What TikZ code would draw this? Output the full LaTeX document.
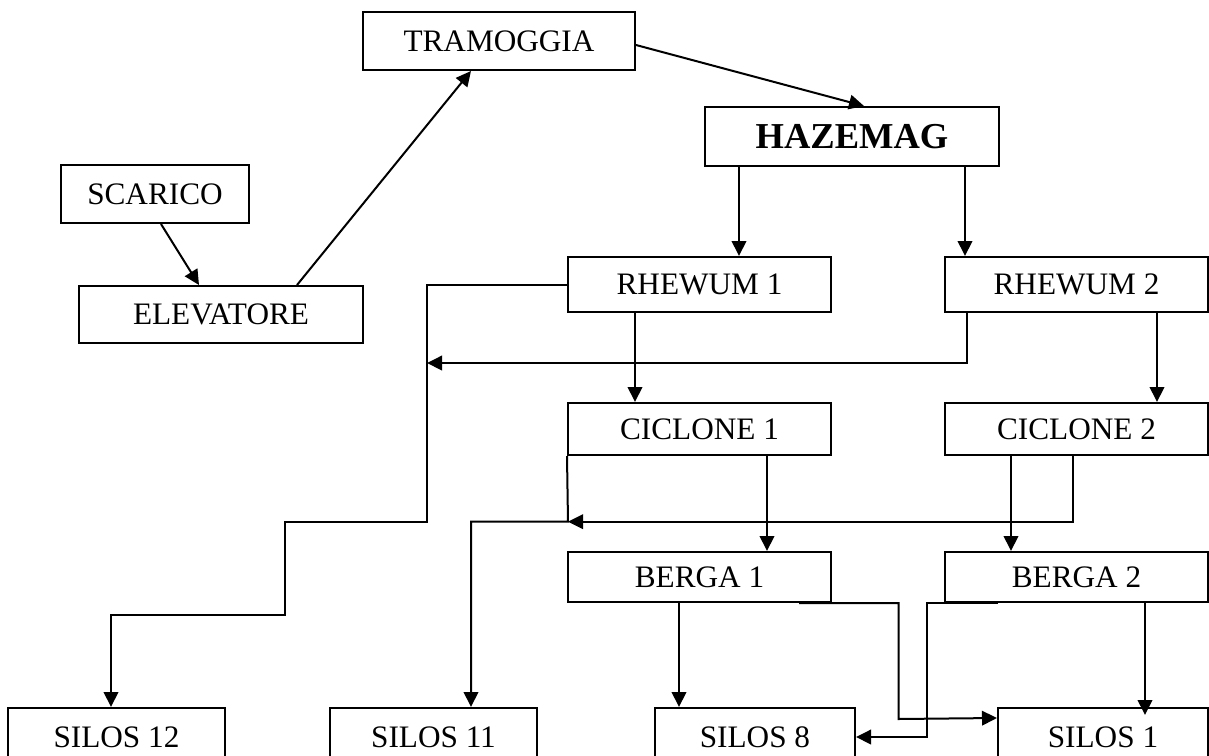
\documentclass[tikz,border=0pt]{standalone}
\usepackage{fontspec}
\setmainfont{Liberation Serif}
\usetikzlibrary{arrows.meta,calc}
\tikzset{
  unitbox/.style={
    rectangle, draw, line width=0.8pt,
    inner sep=0pt, align=center,
    font=\fontsize{12.5}{15}\selectfont
  },
  colbox/.style={unitbox, minimum width=105.2pt},
  silobox/.style={unitbox, minimum height=23.2pt},
  myarr/.style={-{Triangle[length=6pt,width=5.8pt]}, line width=0.8pt},
}

\begin{document}
\begin{tikzpicture}[x=0.4pt,y=-0.4pt]
  \useasboundingbox (0,0) rectangle (1209,755);

  \node[unitbox, minimum width=75.4pt,  minimum height=23.2pt] (scar) at (155,194)   {SCARICO};
  \node[unitbox, minimum width=113.8pt, minimum height=22.8pt] (elev) at (221,314.5) {ELEVATORE};
  \node[unitbox, minimum width=108.8pt, minimum height=23.2pt] (tram) at (499,41)    {TRAMOGGIA};
  \node[unitbox, minimum width=117.6pt, minimum height=23.6pt,
        font=\bfseries\fontsize{14.6}{17}\selectfont]          (haze) at (852,136.5) {HAZEMAG};

  \node[colbox, minimum height=22pt]   (rh1)   at (699.5,284.5)  {RHEWUM 1};
  \node[colbox, minimum height=22pt]   (rh2)   at (1076.5,284.5) {RHEWUM 2};
  \node[colbox, minimum height=20.8pt] (cic1)  at (699.5,429)    {CICLONE 1};
  \node[colbox, minimum height=20.8pt] (cic2)  at (1076.5,429)   {CICLONE 2};
  \node[colbox, minimum height=20pt]   (berg1) at (699.5,577)    {BERGA 1};
  \node[colbox, minimum height=20pt]   (berg2) at (1076.5,577)   {BERGA 2};

  \node[silobox, minimum width=86.8pt] (sil12) at (116.5,737) {SILOS 12};
  \node[silobox, minimum width=82.8pt] (sil11) at (433.5,737) {SILOS 11};
  \node[silobox, minimum width=80pt]   (sil8)  at (755,737)   {SILOS 8};
  \node[silobox, minimum width=84pt]   (sil1)  at (1103,737)  {SILOS 1};

  % bends of the return lines
  \coordinate (bendA) at (427,521.7);
  \coordinate (bendB) at (285,615);
  \coordinate (bendC) at (427,363);
  \coordinate (meetB) at (568,521.7);
  \coordinate (bendF) at (898.6,719);
  \coordinate (bendG) at (927,737);

  \draw[myarr] ($(scar.south)+(6,0)$)   -- ($(elev.north)+(-22,0)$);
  \draw[myarr] ($(elev.north)+(76,0)$)  -- ($(tram.south)+(-28,0)$);
  \draw[myarr] ($(tram.east)+(0,4)$)    -- ($(haze.north)+(12,0)$);
  \draw[myarr] ($(haze.south)+(-113,0)$) -- ($(rh1.north)+(39.5,0)$);
  \draw[myarr] ($(haze.south)+(113,0)$)  -- ($(rh2.north)+(-111.5,0)$);
  \draw[myarr] ($(rh1.south)+(-64.5,0)$) -- ($(cic1.north)+(-64.5,0)$);
  \draw[myarr] ($(rh2.south)+(80.5,0)$)  -- ($(cic2.north)+(80.5,0)$);
  \draw[myarr] ($(cic1.south)+(67.5,0)$) -- ($(berg1.north)+(67.5,0)$);
  \draw[myarr] ($(cic2.south)+(-65.5,0)$) -- ($(berg2.north)+(-65.5,0)$);
  \draw[myarr] ($(berg1.south)+(-20.5,0)$) -- ($(sil8.north)+(-76,0)$);
  \draw[myarr] ($(berg2.south)+(68.5,0)$)  -- ($(sil1.north)+(42,8)$);

  % returns and side lines
  \draw[myarr] (rh1.west) -| (bendA) -| (bendB) -| ($(sil12.north)+(-5.5,0)$);
  \draw[myarr] ($(rh2.south)+(-109.5,0)$) |- (bendC);
  \draw[myarr] ($(cic2.south)+(-3.5,0)$) |- (meetB);
  \draw[myarr] (cic1.south west) -- (meetB) -| ($(sil11.north)+(37.5,0)$);
  \draw[myarr] ($(berg1.south east)+(-33,0)$) -| (bendF) -- ($(sil1.north west)+(0,11)$);
  \draw[myarr] ($(berg2.south west)+(54,0)$) -| (bendG) -- (sil8.east);
\end{tikzpicture}
\end{document}
